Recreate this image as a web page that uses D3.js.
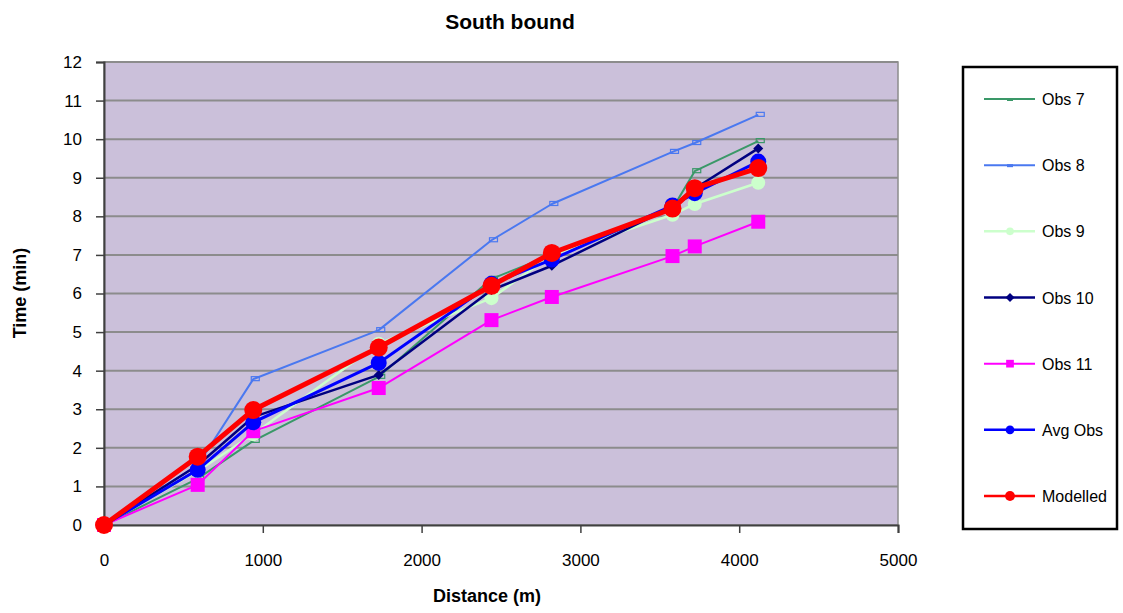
<!DOCTYPE html>
<html><head><meta charset="utf-8">
<script src="https://cdn.jsdelivr.net/npm/d3@7"></script>
<style>body{margin:0;background:#fff;font-family:"Liberation Sans",Arial,sans-serif;}</style>
</head><body><svg id="c" width="1123" height="613"></svg>
<script>
const distances = [0, 590, 940, 1730, 2440, 2820, 3580, 3720, 4120];
const obs7  = [0, 1.2, 2.18, 3.84, 6.38, 7.0, 8.2, 9.17, 9.95];
const obs8  = [0, 1.55, 3.78, 5.05, 7.38, 8.32, 9.67, 9.9, 10.63];
const obs9  = [0, 1.4, 2.35, 4.7, 5.88, 7.0, 8.04, 8.32, 8.87];
const obs10 = [0, 1.55, 2.8, 3.89, 6.09, 6.72, 8.25, 8.72, 9.76];
const obs11 = [0, 1.04, 2.43, 3.55, 5.31, 5.91, 6.97, 7.22, 7.86];
const avgObs = [0, 1.43, 2.66, 4.2, 6.25, 6.88, 8.28, 8.6, 9.42];
const modelled = [0, 1.77, 2.98, 4.6, 6.2, 7.05, 8.2, 8.73, 9.25];
const seriesNames = ["Obs 7","Obs 8","Obs 9","Obs 10","Obs 11","Avg Obs","Modelled"];
const xTicks = [0,1000,2000,3000,4000,5000];
const yTicks = [0,1,2,3,4,5,6,7,8,9,10,11,12];

const styles = [
  {color:"#3a9868", w:2, marker:"dash"},
  {color:"#4a78f0", w:2, marker:"dash"},
  {color:"#ccffcc", w:2.5, marker:"circle", r:7},
  {color:"#000080", w:2.5, marker:"diamond", r:5},
  {color:"#ff00ff", w:2, marker:"square", r:7},
  {color:"#0000ff", w:3, marker:"circle", r:8},
  {color:"#ff0000", w:5, marker:"circle", r:9}
];
const data = [obs7, obs8, obs9, obs10, obs11, avgObs, modelled];

const svg = d3.select("#c");
const L=104, R=898, T=62, B=525;
const x = d3.scaleLinear().domain([0,5000]).range([L,R]);
const y = d3.scaleLinear().domain([0,12]).range([B,T]);
const bg = "#cbc0da";

svg.append("rect").attr("x",L).attr("y",T).attr("width",R-L).attr("height",B-T).attr("fill",bg)
  .attr("stroke","#8c8c8c").attr("stroke-width",1.5);

svg.append("g").selectAll("line").data(yTicks.filter(d=>d>0)).join("line")
  .attr("x1",L).attr("x2",R).attr("y1",d=>y(d)).attr("y2",d=>y(d))
  .attr("stroke","#8c8c8c").attr("stroke-width",2);

const yAxis = svg.append("g").attr("transform",`translate(${L},0)`)
  .call(d3.axisLeft(y).tickValues(yTicks).tickSize(8).tickPadding(14).tickFormat(d3.format("d")));
const xAxis = svg.append("g").attr("transform",`translate(0,${B})`)
  .call(d3.axisBottom(x).tickValues(xTicks).tickSize(8).tickPadding(21).tickFormat(d3.format("d")));
[yAxis,xAxis].forEach(a=>{
  a.select(".domain").attr("stroke","#404040").attr("stroke-width",2);
  a.selectAll(".tick line").attr("stroke","#404040").attr("stroke-width",1.5);
  a.selectAll("text").attr("font-size",17).attr("fill","#000").attr("font-family","'Liberation Sans',Arial,sans-serif");
});

const line = d3.line().x((d,i)=>x(distances[i])).y(d=>y(d));

function drawMarker(g, st, cx, cy, legend){
  const s = legend ? 0.55 : 1;
  if(st.marker==="circle"){
    g.append("circle").attr("cx",cx).attr("cy",cy).attr("r",st.r*s).attr("fill",st.color);
  } else if(st.marker==="square"){
    const r=st.r*s;
    g.append("rect").attr("x",cx-r).attr("y",cy-r).attr("width",2*r).attr("height",2*r).attr("fill",st.color);
  } else if(st.marker==="diamond"){
    const r=st.r*(legend?0.9:1);
    g.append("path").attr("d",`M${cx},${cy-r}L${cx+r},${cy}L${cx},${cy+r}L${cx-r},${cy}Z`).attr("fill",st.color);
  } else if(st.marker==="dash"){
    if(legend){
      g.append("rect").attr("x",cx-3).attr("y",cy-1).attr("width",6).attr("height",3).attr("fill",st.color);
    } else {
      g.append("rect").attr("x",cx-2).attr("y",cy-2.5).attr("width",8).attr("height",4)
        .attr("fill","none").attr("stroke",st.color).attr("stroke-width",1.2);
    }
  }
}

data.forEach((vals,k)=>{
  const st = styles[k];
  const g = svg.append("g");
  g.append("path").attr("d",line(vals)).attr("fill","none").attr("stroke",st.color)
    .attr("stroke-width",st.w).attr("stroke-linejoin","round");
  vals.forEach((v,i)=>drawMarker(g, st, x(distances[i]), y(v), false));
});

svg.append("text").attr("x",510).attr("y",29).attr("text-anchor","middle")
  .attr("font-size",21).attr("font-weight","bold").text("South bound");
svg.append("text").attr("x",487).attr("y",602).attr("text-anchor","middle")
  .attr("font-size",18).attr("font-weight","bold").text("Distance (m)");
svg.append("text").attr("transform","translate(26,293) rotate(-90)").attr("text-anchor","middle")
  .attr("font-size",18).attr("font-weight","bold").text("Time (min)");

const lg = svg.append("g");
lg.append("rect").attr("x",963).attr("y",67).attr("width",154).attr("height",462)
  .attr("fill","#fff").attr("stroke","#000").attr("stroke-width",2.5);
const legY = d3.scalePoint().domain(seriesNames).range([99,496]);
seriesNames.forEach((n,k)=>{
  const st=styles[k], yy=legY(n);
  const g=lg.append("g");
  g.append("line").attr("x1",984).attr("x2",1035).attr("y1",yy).attr("y2",yy)
    .attr("stroke",st.color).attr("stroke-width",Math.min(st.w,2.5));
  drawMarker(g, st, 1010, yy, true);
  g.append("text").attr("x",1042).attr("y",yy+6).attr("font-size",16).text(n);
});
</script></body></html>
